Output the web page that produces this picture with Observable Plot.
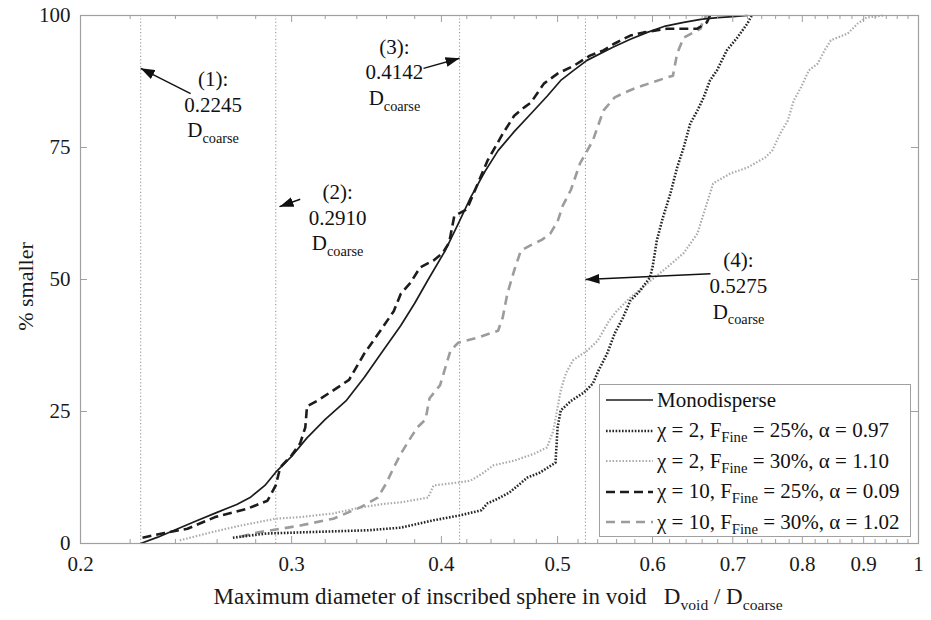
<!DOCTYPE html>
<html><head><meta charset="utf-8">
<script src="https://cdn.jsdelivr.net/npm/d3@7"></script>
<script src="https://cdn.jsdelivr.net/npm/@observablehq/plot@0.6"></script>
<style>
body{margin:0;background:#fff;}
#wrap{position:relative;width:931px;height:620px;font-family:'Liberation Serif','Times New Roman',serif;}
#wrap svg text{font-family:'Liberation Serif','Times New Roman',serif;}
#legend{position:absolute;left:599px;top:384px;width:312px;height:153px;border:1.5px solid #a0a0a0;background:#fff;box-sizing:border-box;}
.row{position:absolute;left:6px;height:30px;display:flex;align-items:center;font-size:21px;color:#111;white-space:nowrap;}
.row svg{margin-right:3px;flex:none}
sub{font-size:0.7em;vertical-align:-0.35em;line-height:0}
</style></head>
<body><div id="wrap"></div>
<script>
// ---------------- data ----------------
const monoX = [0.2245,0.232,0.24,0.25,0.26,0.27,0.277,0.285,0.291,0.30,0.309,0.32,0.333,0.345,0.355,0.37,0.38,0.39,0.403,0.413,0.423,0.435,0.446,0.46,0.475,0.49,0.503,0.515,0.529,0.556,0.575,0.594,0.615,0.637,0.66,0.68,0.70,0.72];
const monoY = [0,1.2,2.6,4.3,5.9,7.4,8.7,11,13.5,16.5,20,23.5,27,31.5,35.5,41.3,45.5,50,55.5,60.5,65.5,70.5,74.4,78,81.4,84.7,87.7,89.5,91.5,94,95.5,96.8,98,98.7,99.3,99.6,99.8,100];

const c2f25X = [0.268,0.286,0.305,0.347,0.37,0.394,0.414,0.432,0.437,0.446,0.456,0.472,0.483,0.498,0.50,0.503,0.513,0.526,0.535,0.541,0.55,0.558,0.567,0.575,0.586,0.597,0.60,0.605,0.612,0.621,0.629,0.637,0.645,0.654,0.662,0.67,0.679,0.692,0.706,0.72,0.726];
const c2f25Y = [1.1,1.9,2.1,2.5,3.0,4.4,5.3,6.3,7.6,8.5,9.7,12.5,13.4,15.3,22,25.2,27,28.6,30.3,32.8,36,39.8,42.8,46,47.9,50.4,52.3,57.4,61.7,66.3,71.2,75,79.5,82,84.5,87.7,89.6,93.4,95.8,98.5,100];

const c2f30X = [0.242,0.257,0.272,0.291,0.305,0.325,0.342,0.358,0.37,0.39,0.394,0.415,0.423,0.433,0.442,0.46,0.478,0.49,0.496,0.503,0.508,0.515,0.529,0.54,0.552,0.56,0.575,0.598,0.617,0.637,0.654,0.67,0.674,0.697,0.72,0.745,0.755,0.767,0.778,0.787,0.798,0.81,0.824,0.835,0.845,0.873,0.89,0.905,0.935];
const c2f30Y = [0.6,2.1,3.4,4.7,5,5.7,6.8,7.5,7.8,8.7,11,11.6,11.9,13.3,14.8,15.7,17,18.2,21.4,29,32.2,34.7,36.5,38.4,42.2,44,46.6,49.8,52.3,55,58.7,66.3,68.2,70.1,71.2,73.1,74.4,77.7,80.1,83.9,86.4,89.6,90.9,93.4,95.3,96.6,98.5,99.6,100];

const c10f25X = [0.2253,0.235,0.2456,0.259,0.2756,0.2864,0.291,0.2935,0.30,0.305,0.308,0.309,0.315,0.325,0.335,0.345,0.355,0.365,0.37,0.377,0.384,0.394,0.401,0.406,0.41,0.42,0.425,0.437,0.45,0.46,0.469,0.475,0.487,0.50,0.516,0.532,0.546,0.558,0.575,0.59,0.617,0.654,0.666,0.67];
const c10f25Y = [1.1,2,2.8,5,6.6,8.1,11,14.4,16.7,19,22,26,27,29,31,36,40,44,47.3,49.4,52.3,53.6,55,57,62,63.3,66,72.5,77.6,81,82.6,83.5,87.1,89,90.5,92.4,93.4,94.7,96.2,96.8,97.5,97.5,98.7,100];

const c10f30X = [0.272,0.281,0.294,0.305,0.325,0.342,0.354,0.36,0.365,0.37,0.377,0.382,0.388,0.391,0.399,0.407,0.413,0.429,0.446,0.45,0.454,0.46,0.466,0.475,0.485,0.493,0.50,0.505,0.513,0.522,0.535,0.546,0.558,0.57,0.583,0.612,0.624,0.629,0.637,0.658,0.662,0.666];
const c10f30Y = [1.3,2.1,2.8,3.4,4.7,6.8,8.7,11.5,14.4,17,20,22,23.5,27.5,30,36.5,38,39,40.3,42.8,47.3,51.7,55.5,56.5,57.5,58.7,61,64,67,72,76.3,82,84.5,85.5,86.4,88,88.6,92.8,95.8,97.5,99.4,100];

const seriesLabels = ["Monodisperse","χ = 2, F_{Fine} = 25%, α = 0.97","χ = 2, F_{Fine} = 30%, α = 1.10","χ = 10, F_{Fine} = 25%, α = 0.09","χ = 10, F_{Fine} = 30%, α = 1.02"];

const refValues = [0.2245, 0.2910, 0.4142, 0.5275];
const refLabels = ["(1):", "(2):", "(3):", "(4):"];

const xMajor = [0.2,0.3,0.4,0.5,0.6,0.7,0.8,0.9,1];
const xMinor = d3.range(11, 50).map(i => i / 50).filter(v => Math.round(v * 100) % 10 !== 0);
const yTicks = [0, 25, 50, 75, 100];

const xLabel = "Maximum diameter of inscribed sphere in void\u00a0\u00a0 D_{void} / D_{coarse}";
const yLabel = "% smaller";

// ---------------- layout / style ----------------
const FONT = "'Liberation Serif', 'Times New Roman', serif";
const W = 931, H = 620, mL = 80, mR = 13, mT = 15, mB = 77;
const plotH = H - mT - mB;
const styles = [
  {stroke: "#1c1c1c", width: 1.7, dash: null},
  {stroke: "#262626", width: 2.6, dash: "1.6,1.6"},
  {stroke: "#ababab", width: 2.2, dash: "1.5,1.8"},
  {stroke: "#1c1c1c", width: 2.6, dash: "9,5"},
  {stroke: "#9c9c9c", width: 2.6, dash: "9,6"}
];
const seriesXY = [[monoX, monoY],[c2f25X, c2f25Y],[c2f30X, c2f30Y],[c10f25X, c10f25Y],[c10f30X, c10f30Y]];
const drawOrder = [2, 4, 1, 3, 0];

// annotation placement (data coordinates)
const annPlace = [
  {x: 0.258, y: [86.6, 81.8, 76.9], tail: [0.2471, 85.2], tip: [0.2245, 90.0]},
  {x: 0.3277, y: [65.2, 60.4, 55.5], tail: [0.3050, 65.2], tip: [0.2931, 63.8]},
  {x: 0.3655, y: [92.8, 87.9, 83.0], tail: [0.3865, 90.0], tip: [0.4142, 91.9]},
  {x: 0.7077, y: [52.3, 47.5, 42.6], tail: [0.6706, 51.1], tip: [0.5275, 50.0]}
];
const annRows = [];
refValues.forEach((v, i) => {
  const lines = [refLabels[i], v.toFixed(4), "D_{coarse}"];
  lines.forEach((t, j) => annRows.push({x: annPlace[i].x, y: annPlace[i].y[j], t}));
});
const arrowRows = annPlace.map(a => ({x1: a.tail[0], y1: a.tail[1], x2: a.tip[0], y2: a.tip[1]}));

const lineMarks = drawOrder.map(i => {
  const [xs, ys] = seriesXY[i];
  const rows = xs.map((x, k) => ({x, y: ys[k]}));
  return Plot.line(rows, {x: "x", y: "y", stroke: styles[i].stroke, strokeWidth: styles[i].width,
    strokeDasharray: styles[i].dash, strokeLinecap: "butt", strokeLinejoin: "round"});
});

const AX = "#a0a0a0";
const chart = Plot.plot({
  width: W, height: H,
  marginLeft: mL, marginRight: mR, marginTop: mT, marginBottom: mB,
  style: {fontFamily: FONT, background: "white", color: "#1a1a1a", overflow: "visible"},
  x: {type: "log", domain: [0.2, 1]},
  y: {domain: [0, 100]},
  marks: [
    Plot.ruleX(refValues, {stroke: "#9a9a9a", strokeWidth: 1.1, strokeDasharray: "1.2,2.2"}),
    ...lineMarks,
    Plot.frame({stroke: AX, strokeWidth: 1.2}),
    Plot.tickX(xMinor, {x: d => d, stroke: AX, insetTop: plotH - 4}),
    Plot.tickX(xMinor, {x: d => d, stroke: AX, insetBottom: plotH - 4}),
    Plot.tickX(xMajor, {x: d => d, stroke: AX, insetTop: plotH - 7}),
    Plot.tickX(xMajor, {x: d => d, stroke: AX, insetBottom: plotH - 7}),
    Plot.tickY(yTicks, {y: d => d, stroke: AX, insetRight: (W - mL - mR) - 7}),
    Plot.tickY(yTicks, {y: d => d, stroke: AX, insetLeft: (W - mL - mR) - 7}),
    Plot.axisX({ticks: xMajor, tickSize: 0, tickPadding: 13, fontSize: 21, tickFormat: d => d === 1 ? "1" : d.toFixed(1), label: null, fill: "#1a1a1a"}),
    Plot.axisY({ticks: yTicks, tickSize: 0, tickPadding: 10, fontSize: 21, label: null, fill: "#1a1a1a"}),
    Plot.text(annRows, {x: "x", y: "y", text: "t", textAnchor: "middle", lineAnchor: "bottom", fontSize: 21, fill: "#111"}),
    Plot.link(arrowRows, {x1: "x1", y1: "y1", x2: "x2", y2: "y2", stroke: "#111", strokeWidth: 1.4, markerEnd: "arrow"}),
    Plot.text([xLabel], {frameAnchor: "bottom-left", dx: 133, dy: 60, textAnchor: "start", lineAnchor: "bottom", fontSize: 23, fill: "#1a1a1a"}),
    Plot.text([yLabel], {frameAnchor: "left", dx: -55, dy: 7, rotate: -90, textAnchor: "middle", lineAnchor: "middle", fontSize: 22, fill: "#1a1a1a"})
  ]
});
chart.setAttribute("font-family", FONT);

// subscripts  (_{...})
d3.select(chart).selectAll("text").each(function() {
  const s = this.textContent;
  if (!s.includes("_{")) return;
  const el = d3.select(this);
  el.text(null);
  const re = /_\{([^}]*)\}/g;
  let last = 0, m, shifted = false;
  while ((m = re.exec(s))) {
    if (m.index > last) {
      const t = el.append("tspan").text(s.slice(last, m.index));
      if (shifted) { t.attr("dy", "-0.27em"); shifted = false; }
    }
    el.append("tspan").attr("font-size", "0.68em").attr("dy", "0.4em").text(m[1]);
    shifted = true;
    last = re.lastIndex;
  }
  if (last < s.length) {
    const t = el.append("tspan").text(s.slice(last));
    if (shifted) t.attr("dy", "-0.27em");
  }
});
// filled arrowheads
d3.select(chart).selectAll("marker")
  .attr("viewBox", "-14 -5 14 10").attr("markerWidth", 14).attr("markerHeight", 10)
  .attr("markerUnits", "userSpaceOnUse").attr("refX", 0).attr("refY", 0)
  .attr("fill", "#111").attr("stroke", "none")
  .selectAll("path").attr("d", "M-14,-5L0,0L-14,5Z");

const wrap = document.getElementById("wrap");
wrap.appendChild(chart);

// legend (inside the axes, lower right)
const legend = document.createElement("div");
legend.id = "legend";
seriesLabels.forEach((lab, i) => {
  const row = document.createElement("div");
  row.className = "row";
  row.style.top = (i * 30.5) + "px";
  const st = styles[i];
  row.innerHTML = `<svg width="48" height="10"><line x1="0" x2="47" y1="5" y2="5" stroke="${st.stroke}" stroke-width="${st.width}" ${st.dash ? `stroke-dasharray="${st.dash}"` : ""}/></svg>` +
    `<span>${lab.replace(/_\{([^}]*)\}/g, "<sub>$1</sub>")}</span>`;
  legend.appendChild(row);
});
wrap.appendChild(legend);
</script></body></html>
